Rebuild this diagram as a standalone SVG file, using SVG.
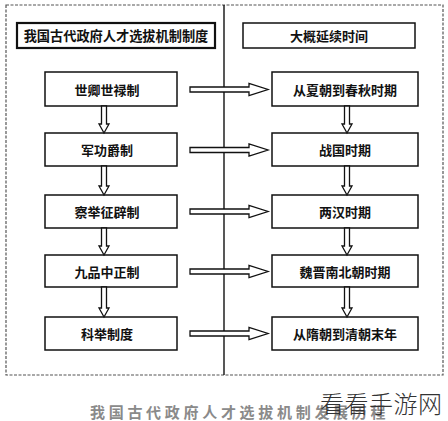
<svg xmlns="http://www.w3.org/2000/svg" width="448" height="421" viewBox="0 0 448 421">
<style>
.box{fill:#fff;stroke:#111;stroke-width:1.5}
.hdr{fill:#fff;stroke:#111;stroke-width:2.2}
.t{font-family:"Noto Sans CJK SC","Noto Sans CJK TC",sans-serif;font-weight:bold;font-size:13px;fill:#111;text-anchor:middle;dominant-baseline:central}
.arr{fill:#fff;stroke:#111;stroke-width:1.3;stroke-linejoin:miter}
</style>
<rect x="0" y="0" width="448" height="421" fill="#fff"/>
<rect x="6" y="5" width="437" height="370" fill="none" stroke="#555" stroke-width="1.2" stroke-dasharray="3,1.5"/>
<line x1="224" y1="5" x2="224" y2="375" stroke="#111" stroke-width="1.4"/>
<g id="header-left"><rect class="hdr" x="17" y="23" width="198" height="25"/><text class="t" x="116" y="35.5" style="font-size:13.2px">我国古代政府人才选拔机制制度</text></g>
<g id="header-right"><rect class="box" x="243" y="23" width="172" height="25"/><text class="t" x="329" y="35.5">大概延续时间</text></g>
<g id="l1"><rect class="box" x="45" y="72" width="132" height="34"/><text class="t" x="107" y="89">世卿世禄制</text></g>
<g id="l2"><rect class="box" x="45" y="133" width="132" height="33"/><text class="t" x="107" y="149.5">军功爵制</text></g>
<g id="l3"><rect class="box" x="45" y="195" width="132" height="33"/><text class="t" x="107" y="211.5">察举征辟制</text></g>
<g id="l4"><rect class="box" x="45" y="255" width="132" height="32"/><text class="t" x="107" y="271">九品中正制</text></g>
<g id="l5"><rect class="box" x="45" y="317" width="132" height="33"/><text class="t" x="107" y="333.5">科举制度</text></g>
<g id="r1"><rect class="box" x="272" y="72" width="146" height="34"/><text class="t" x="345" y="89">从夏朝到春秋时期</text></g>
<g id="r2"><rect class="box" x="272" y="133" width="146" height="33"/><text class="t" x="345" y="149.5">战国时期</text></g>
<g id="r3"><rect class="box" x="272" y="195" width="146" height="33"/><text class="t" x="345" y="211.5">两汉时期</text></g>
<g id="r4"><rect class="box" x="272" y="255" width="146" height="32"/><text class="t" x="345" y="271">魏晋南北朝时期</text></g>
<g id="r5"><rect class="box" x="272" y="317" width="146" height="33"/><text class="t" x="345" y="333.5">从隋朝到清朝末年</text></g>
<g id="connectors">
<path class="arr" d="M190,87 H249 V83.5 L268,89.5 L249,95.5 V92 H190 Z"/>
<path class="arr" d="M190,147.5 H249 V144 L268,150 L249,156 V152.5 H190 Z"/>
<path class="arr" d="M190,209 H249 V205.5 L268,211.5 L249,217.5 V214 H190 Z"/>
<path class="arr" d="M190,269 H249 V265.5 L268,271.5 L249,277.5 V274 H190 Z"/>
<path class="arr" d="M190,331 H249 V327.5 L268,333.5 L249,339.5 V336 H190 Z"/>
<path class="arr" d="M101.5,106 V124 H99 L104,133 L109,124 H106.5 V106 Z"/>
<path class="arr" d="M101.5,166 V186 H99 L104,195 L109,186 H106.5 V166 Z"/>
<path class="arr" d="M101.5,228 V246 H99 L104,255 L109,246 H106.5 V228 Z"/>
<path class="arr" d="M101.5,287 V308 H99 L104,317 L109,308 H106.5 V287 Z"/>
<path class="arr" d="M344.5,106 V124 H342 L347,133 L352,124 H349.5 V106 Z"/>
<path class="arr" d="M344.5,166 V186 H342 L347,195 L352,186 H349.5 V166 Z"/>
<path class="arr" d="M344.5,228 V246 H342 L347,255 L352,246 H349.5 V228 Z"/>
<path class="arr" d="M344.5,287 V308 H342 L347,317 L352,308 H349.5 V287 Z"/>
</g>
<text x="90" y="411" font-family="Noto Sans CJK SC,sans-serif" font-weight="bold" font-size="15" letter-spacing="3.7" fill="#8a8a8a" dominant-baseline="central">我国古代政府人才选拔机制发展历程</text>
<text x="320" y="402" font-family="Noto Sans CJK SC,sans-serif" font-weight="300" font-size="24" fill="#333" dominant-baseline="central" letter-spacing="0.5">看看手游网</text>
</svg>
